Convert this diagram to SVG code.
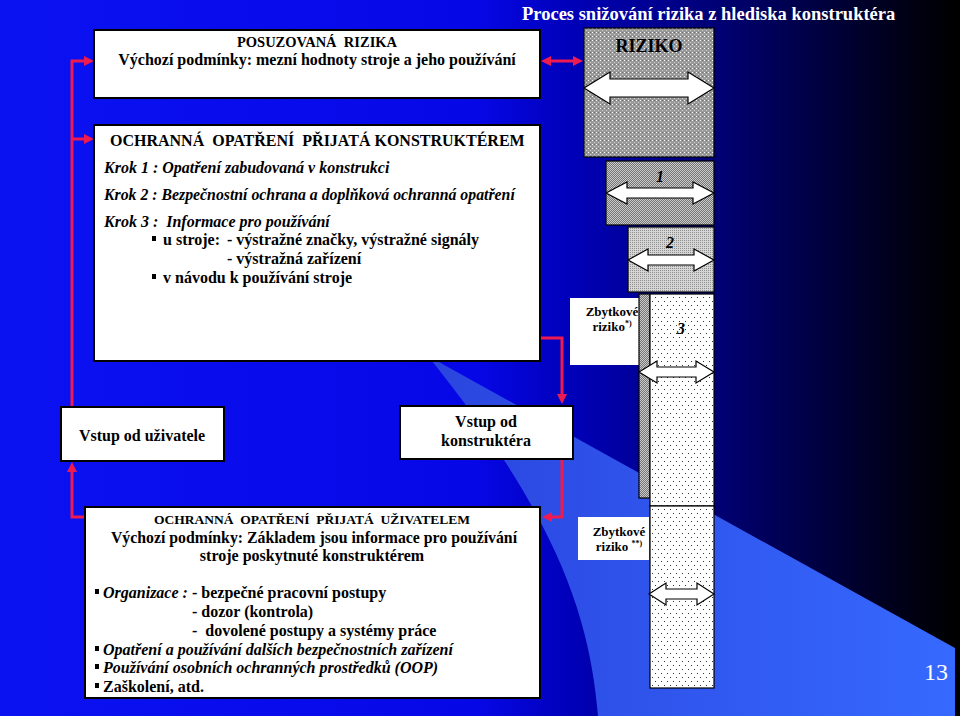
<svg xmlns="http://www.w3.org/2000/svg" width="960" height="716" viewBox="0 0 960 716">
<defs>
<linearGradient id="bg" x1="0" y1="0" x2="955" y2="0" gradientUnits="userSpaceOnUse">
<stop offset="0" stop-color="#0b12f2"/>
<stop offset="0.5" stop-color="#0607e6"/>
<stop offset="0.6" stop-color="#0000b8"/>
<stop offset="0.76" stop-color="#000070"/>
<stop offset="0.9" stop-color="#00002c"/>
<stop offset="1" stop-color="#000000"/>
</linearGradient>
<linearGradient id="lb" x1="430" y1="0" x2="955" y2="0" gradientUnits="userSpaceOnUse">
<stop offset="0" stop-color="#2a45de"/>
<stop offset="1" stop-color="#3669ff"/>
</linearGradient>
<pattern id="pR" width="4" height="4" patternUnits="userSpaceOnUse">
<rect width="4" height="4" fill="#999999"/>
<rect x="0" y="0" width="1" height="1" fill="#ffffff"/>
<rect x="2" y="2" width="1" height="1" fill="#d0d0d0"/>
<rect x="2" y="0" width="1" height="1" fill="#707070"/>
</pattern>
<pattern id="p1" width="2" height="2" patternUnits="userSpaceOnUse">
<rect width="2" height="2" fill="#747474"/>
<rect x="0" y="0" width="1" height="1" fill="#cccccc"/>
<rect x="1" y="1" width="1" height="1" fill="#cccccc"/>
</pattern>
<pattern id="p2" width="2" height="2" patternUnits="userSpaceOnUse">
<rect width="2" height="2" fill="#d6d6d6"/>
<rect x="0" y="0" width="1" height="1" fill="#8e8e8e"/>
</pattern>
<pattern id="p3" width="6" height="8" patternUnits="userSpaceOnUse">
<rect width="6" height="8" fill="#ffffff"/>
<rect x="1" y="1" width="1" height="1" fill="#333333"/>
<rect x="4" y="5" width="1" height="1" fill="#333333"/>
</pattern>
<marker id="ah" viewBox="0 0 10 10" refX="4" refY="5" markerWidth="10" markerHeight="10" markerUnits="userSpaceOnUse" orient="auto-start-reverse">
<path d="M0,0 L10,5 L0,10 Z" fill="#ee1a50"/>
</marker>
<style>
.box{fill:#ffffff;stroke:#000000;stroke-width:2}
.wbox{fill:#ffffff}
.t{font-family:"Liberation Serif","Times New Roman",serif;font-weight:bold;fill:#000000}
.i{font-style:italic}
.c{text-anchor:middle}
.arr{fill:#ffffff;stroke:#000000;stroke-width:1.2;stroke-linejoin:miter}
.red{fill:none;stroke:#ee1a50;stroke-width:3}
.bul{fill:#000000}
.col{stroke:#000000;stroke-width:1.2}
</style>
</defs>

<g id="background">
<rect x="0" y="0" width="960" height="716" fill="url(#bg)"/>
<path d="M428 356 L955 648 L955 716 L598 716 C590 620 560 520 428 356 Z" fill="url(#lb)"/>
<rect x="955" y="0" width="5" height="716" fill="#000000"/>
</g>

<text class="t" x="522" y="20" font-size="18.5" style="fill:#ffffff">Proces snižování rizika z hlediska konstruktéra</text>

<g id="connectors">
<path class="red" d="M72 406 L72 61 L88 61" marker-end="url(#ah)"/>
<path class="red" d="M72 139 L88 139" marker-end="url(#ah)"/>
<path class="red" d="M85 517 L72 517 L72 468" marker-end="url(#ah)"/>
<path class="red" d="M540 338 L562 338 L562 398" marker-end="url(#ah)"/>
<path class="red" d="M562 459 L562 517 L548 517" marker-end="url(#ah)"/>
<path class="red" d="M547 61 L577 61" marker-start="url(#ah)" marker-end="url(#ah)"/>
</g>

<g id="posuzovana-rizika">
<rect class="box" x="94" y="30" width="446" height="68"/>
<text class="t c" x="317" y="47" font-size="14.5" xml:space="preserve">POSUZOVANÁ  RIZIKA</text>
<text class="t c" x="317" y="65" font-size="16">Výchozí podmínky: mezní hodnoty stroje a jeho používání</text>
</g>

<g id="opatreni-konstrukter">
<rect class="box" x="94" y="125" width="446" height="236"/>
<text class="t" x="110" y="146" font-size="16" xml:space="preserve">OCHRANNÁ  OPATŘENÍ  PŘIJATÁ KONSTRUKTÉREM</text>
<text class="t i" x="104" y="173" font-size="16">Krok 1 : Opatření zabudovaná v konstrukci</text>
<text class="t i" x="104" y="200" font-size="15.8">Krok 2 : Bezpečnostní ochrana a doplňková ochranná opatření</text>
<text class="t i" x="104" y="227" font-size="16" xml:space="preserve">Krok 3 :  Informace pro používání</text>
<rect class="bul" x="152" y="236" width="4" height="5"/>
<text class="t" x="163" y="245" font-size="16">u stroje: <tspan x="227">- výstražné značky, výstražné signály</tspan></text>
<text class="t" x="227" y="264" font-size="16">- výstražná zařízení</text>
<rect class="bul" x="152" y="274" width="4" height="5"/>
<text class="t" x="163" y="283" font-size="16">v návodu k používání stroje</text>
</g>

<g id="riziko">
<rect class="col" x="584" y="28" width="130" height="129" fill="url(#pR)"/>
<text class="t c" x="649" y="52" font-size="18">RIZIKO</text>
<path class="arr" d="M584 88 L610 72 L610 79 L688 79 L688 72 L714 88 L688 104 L688 97 L610 97 L610 104 Z"/>
</g>

<g id="krok1">
<rect class="col" x="606" y="161" width="108" height="64" fill="url(#p1)"/>
<text class="t i c" x="660" y="182" font-size="16">1</text>
<path class="arr" d="M606 193 L627 182 L627 188 L693 188 L693 182 L714 193 L693 204 L693 198 L627 198 L627 204 Z"/>
</g>

<g id="krok2">
<rect class="col" x="628" y="227" width="86" height="65" fill="url(#p2)"/>
<text class="t i c" x="670" y="248" font-size="16">2</text>
<path class="arr" d="M628 260 L648 249 L648 255 L694 255 L694 249 L714 260 L694 271 L694 265 L648 265 L648 271 Z"/>
</g>

<g id="zbytkove-1">
<rect class="wbox" x="570" y="298" width="69" height="67"/>
<text class="t c" x="612" y="316" font-size="13">Zbytkové</text>
<text class="t c" x="612" y="331" font-size="13">riziko<tspan font-size="8" dy="-5">*)</tspan></text>
</g>

<g id="krok3">
<rect class="col" x="639" y="294" width="11" height="204" fill="url(#p1)"/>
<rect class="col" x="650" y="294" width="64" height="212" fill="url(#p3)"/>
<text class="t i c" x="681" y="334" font-size="16">3</text>
<path class="arr" d="M639 372 L657 361 L657 367 L696 367 L696 361 L714 372 L696 383 L696 377 L657 377 L657 383 Z"/>
</g>

<g id="vstup-uzivatel">
<rect class="box" x="61" y="407" width="163" height="54"/>
<text class="t c" x="142" y="441" font-size="16">Vstup od uživatele</text>
</g>

<g id="vstup-konstrukter">
<rect class="box" x="400" y="406" width="173" height="53"/>
<text class="t c" x="486" y="427" font-size="16">Vstup od</text>
<text class="t c" x="486" y="446" font-size="16">konstruktéra</text>
</g>

<g id="opatreni-uzivatel">
<rect class="box" x="85" y="507" width="455" height="191"/>
<text class="t c" x="312" y="524" font-size="13.5" xml:space="preserve">OCHRANNÁ  OPATŘENÍ  PŘIJATÁ  UŽIVATELEM</text>
<text class="t c" x="314" y="543" font-size="15.8">Výchozí podmínky: Základem jsou informace pro používání</text>
<text class="t c" x="312" y="561" font-size="16">stroje poskytnuté konstruktérem</text>
<rect class="bul" x="95" y="589" width="4" height="5"/>
<text class="t" x="103" y="598" font-size="16"><tspan font-style="italic">Organizace :</tspan><tspan x="192">- bezpečné pracovní postupy</tspan></text>
<text class="t" x="192" y="617" font-size="16">- dozor (kontrola)</text>
<text class="t" x="192" y="636" font-size="16" xml:space="preserve">-  dovolené postupy a systémy práce</text>
<rect class="bul" x="95" y="646" width="4" height="5"/>
<text class="t i" x="103" y="655" font-size="16">Opatření a používání dalších bezpečnostních zařízení</text>
<rect class="bul" x="95" y="664" width="4" height="5"/>
<text class="t i" x="103" y="673" font-size="16">Používání osobních ochranných prostředků (OOP)</text>
<rect class="bul" x="95" y="683" width="4" height="5"/>
<text class="t" x="103" y="692" font-size="16">Zaškolení, atd.</text>
</g>

<g id="zbytkove-2">
<rect class="wbox" x="578" y="517" width="71" height="43"/>
<text class="t c" x="619" y="536" font-size="13">Zbytkové</text>
<text class="t c" x="619" y="551" font-size="13">riziko <tspan font-size="8" dy="-5">**)</tspan></text>
</g>

<g id="zbytek">
<rect class="col" x="650" y="506" width="64" height="182" fill="url(#p3)"/>
<path class="arr" d="M649 594 L666 583 L666 589 L697 589 L697 583 L714 594 L697 605 L697 599 L666 599 L666 605 Z"/>
</g>

<text x="936" y="680" font-family="Liberation Serif, serif" font-size="24" fill="#ffffff" text-anchor="middle">13</text>
</svg>
